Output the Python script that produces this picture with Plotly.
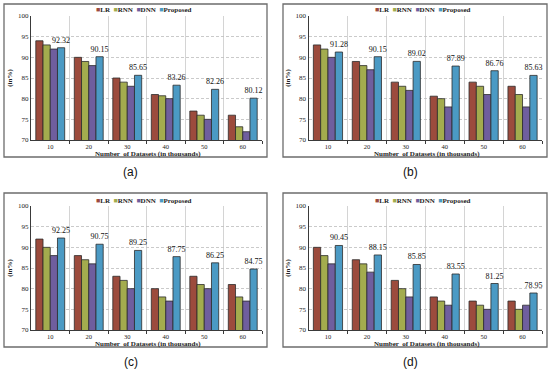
import plotly.graph_objects as go
from plotly.subplots import make_subplots

categories = ["10", "20", "30", "40", "50", "60"]
series_names = ["LR", "RNN", "DNN", "Proposed"]
series_colors = ["#9C4B3D", "#A3AC4E", "#6F5E9E", "#4B9AC4"]

# Panel (a)
a_LR = [94, 90, 85, 81, 77, 76]
a_RNN = [93, 89, 84, 80.7, 76, 73.2]
a_DNN = [92, 88, 83, 80, 75, 72]
a_Proposed = [92.32, 90.15, 85.65, 83.26, 82.26, 80.12]
# Panel (b)
b_LR = [93, 89, 84, 80.6, 84, 83]
b_RNN = [92, 88, 83, 80, 83, 81]
b_DNN = [90, 87, 82, 78, 81, 78]
b_Proposed = [91.28, 90.15, 89.02, 87.89, 86.76, 85.63]
# Panel (c)
c_LR = [92, 88, 83, 80, 83, 81]
c_RNN = [90, 87, 82, 78, 81, 78]
c_DNN = [88, 86, 80, 77, 80, 77]
c_Proposed = [92.25, 90.75, 89.25, 87.75, 86.25, 84.75]
# Panel (d)
d_LR = [90, 87, 82, 78, 77, 77]
d_RNN = [88, 86, 80, 77, 76, 75]
d_DNN = [86, 84, 78, 76, 75, 76]
d_Proposed = [90.45, 88.15, 85.85, 83.55, 81.25, 78.95]

panel_labels = ["(a)", "(b)", "(c)", "(d)"]
x_title = "Number  of Datasets (in thousands)"
y_title = "(in%)"
y_ticks = [70, 75, 80, 85, 90, 95, 100]

panels = [
    [a_LR, a_RNN, a_DNN, a_Proposed],
    [b_LR, b_RNN, b_DNN, b_Proposed],
    [c_LR, c_RNN, c_DNN, c_Proposed],
    [d_LR, d_RNN, d_DNN, d_Proposed],
]

W, H = 550, 372
SERIF = "Liberation Serif"

def px_x(v):
    return v / W

def px_y(v):
    return 1 - v / H

# layout geometry (pixels)
col_plot = [(31, 262), (308.5, 542)]
row_plot = [(16, 140), (206, 330)]
col_frame = [(4, 267), (283, 547)]
row_frame = [(4, 157), (193, 347)]
legend_y = [10, 201]
xtitle_y = [153.8, 343.8]
label_y = [172, 362]

fig = make_subplots(rows=2, cols=2)
xpos = list(range(len(categories)))

for p, vals in enumerate(panels):
    r, c = p // 2, p % 2
    for s, name in enumerate(series_names):
        kw = {}
        if name == "Proposed":
            kw = dict(
                text=[f"{v:.2f}" for v in vals[s]],
                textposition="outside",
                textfont=dict(family=SERIF, size=8, color="#111111"),
                constraintext="none",
                cliponaxis=False,
            )
        fig.add_trace(
            go.Bar(
                x=xpos,
                y=vals[s],
                name=name,
                marker=dict(color=series_colors[s], line=dict(color="#2b2b2b", width=0.8)),
                showlegend=False,
                hoverinfo="skip",
                **kw,
            ),
            row=r + 1,
            col=c + 1,
        )

    idx = "" if p == 0 else str(p + 1)
    xl, xr = col_plot[c]
    yt, yb = row_plot[r]
    fig.layout["xaxis" + idx].update(
        domain=[px_x(xl), px_x(xr)],
        range=[-0.5, len(categories) - 0.5],
        tickvals=xpos,
        ticktext=categories,
        ticks="",
        showgrid=False,
        zeroline=False,
        showline=True,
        linecolor="#3a3a3a",
        linewidth=1,
        tickfont=dict(family=SERIF, size=6.5, color="#222222"),
        ticklabelstandoff=0,
        automargin=False,
        minor=dict(
            tickvals=[i + 0.5 for i in xpos],
            showgrid=True,
            gridcolor="#D4D4D4",
            gridwidth=1,
            ticks="outside",
            ticklen=3,
            tickcolor="#3a3a3a",
        ),
        fixedrange=True,
    )
    fig.layout["yaxis" + idx].update(
        domain=[px_y(yb), px_y(yt)],
        range=[70, 100],
        tickvals=y_ticks,
        showgrid=True,
        gridcolor="#BDBDBD",
        griddash="3px,2px",
        gridwidth=0.8,
        zeroline=False,
        showline=True,
        linecolor="#3a3a3a",
        linewidth=1,
        ticks="",
        automargin=False,
        tickfont=dict(family=SERIF, size=7, color="#222222"),
        title=dict(text="<b>" + y_title + "</b>", font=dict(family=SERIF, size=7, color="#222222"), standoff=4),
        fixedrange=True,
    )

    # frame around panel
    fl, fr = col_frame[c]
    ft, fb = row_frame[r]
    fig.add_shape(
        type="rect", xref="paper", yref="paper",
        x0=px_x(fl), x1=px_x(fr), y0=px_y(fb), y1=px_y(ft),
        line=dict(color="#6c6c6c", width=1.3), fillcolor="rgba(0,0,0,0)", layer="below",
    )

    # compact legend line built from the series names/colours
    legend_text = "  ".join(
        f"<span style='color:{col}'>■</span><b>{nm}</b>" for nm, col in zip(series_names, series_colors)
    )
    fig.add_annotation(
        xref="paper", yref="paper", x=px_x((xl + xr) / 2 - 3), y=px_y(legend_y[r]),
        text=legend_text, showarrow=False, xanchor="center", yanchor="middle",
        font=dict(family=SERIF, size=7, color="#222222"),
    )
    # x axis title
    fig.add_annotation(
        xref="paper", yref="paper", x=px_x((xl + xr) / 2 + 1.5), y=px_y(xtitle_y[r]),
        text="<b>" + x_title + "</b>", showarrow=False, xanchor="center", yanchor="middle",
        font=dict(family=SERIF, size=7, color="#222222"),
    )
    # panel label
    fig.add_annotation(
        xref="paper", yref="paper", x=px_x((fl + fr) / 2 - 5), y=px_y(label_y[r]),
        text=panel_labels[p], showarrow=False, xanchor="center", yanchor="middle",
        font=dict(family="Liberation Sans", size=12, color="#111111"),
    )

fig.update_layout(
    width=W,
    height=H,
    margin=dict(l=0, r=0, t=0, b=0),
    paper_bgcolor="white",
    plot_bgcolor="white",
    barmode="group",
    bargap=0.25,
    bargroupgap=0,
    showlegend=False,
    hovermode=False,
)

fig.write_html(
    "out.html",
    config={"displayModeBar": False, "staticPlot": True},
    post_script="document.body.style.margin='0px';document.body.style.padding='0px';",
)
